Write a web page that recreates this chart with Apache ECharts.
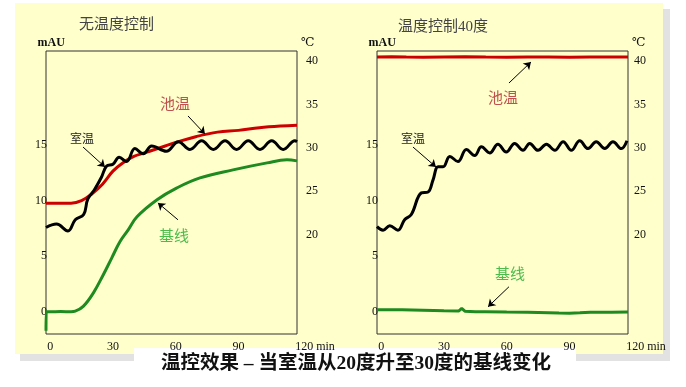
<!DOCTYPE html>
<html>
<head>
<meta charset="utf-8">
<script src="https://cdn.jsdelivr.net/npm/echarts@6/dist/echarts.min.js"></script>
<style>
html,body{margin:0;padding:0;background:#fff;}
#c{width:686px;height:387px;}
</style>
</head>
<body>
<div id="c"></div>
<script>
// ---------- data (time in min) ----------
const xTicks = [0, 30, 60, 90, 120];
const xUnit = 'min';
const mauTicks = [0, 5, 10, 15];
const degTicks = [20, 25, 30, 35, 40];

// Left panel: no temperature control
const leftBathT = [-2, 0, 5, 10, 15, 20, 25, 30, 35, 40, 45, 50, 55, 60, 70, 80, 90, 100, 110, 118];
const leftBathV = [23.6, 23.6, 23.6, 23.6, 23.9, 24.7, 25.8, 27.3, 28.3, 29.0, 29.4, 29.8, 30.2, 30.6, 31.3, 31.8, 32.0, 32.3, 32.5, 32.6];

const leftRoomT = [-2, 3, 8.5, 12, 16, 18, 21, 24.5, 27, 30, 33, 36.5, 40.5, 44.5, 48.5, 55.5, 61.3, 66.8, 72.4, 78, 83.6, 89.1, 94.7, 100.3, 105.9, 111.4, 117, 118];
const leftRoomV = [20.8, 21.2, 20.4, 21.7, 22.3, 24.1, 25.1, 26.6, 27.9, 28.1, 28.9, 28.4, 29.9, 29.3, 30.2, 29.6, 30.7, 29.8, 30.8, 29.8, 30.8, 29.8, 30.8, 29.8, 30.8, 29.8, 30.8, 30.7];

const leftBaseT = [-2, -1.9, 0, 5, 10, 12, 15.8, 20.6, 25.4, 29.4, 33.4, 37.3, 41.5, 51.1, 60.6, 71.6, 87.4, 103.7, 113.2, 118];
const leftBaseV = [-1.7, 0.0, 0.0, 0.02, 0.0, 0.05, 0.48, 1.68, 3.33, 4.83, 6.32, 7.37, 8.54, 10.07, 11.14, 12.04, 12.76, 13.39, 13.66, 13.57];

// Right panel: bath controlled at 40 degrees
const rightBathT = [-2, 5, 12, 20, 30, 40, 50, 60, 70, 80, 90, 100, 110, 118];
const rightBathV = [40.45, 40.5, 40.45, 40.42, 40.46, 40.5, 40.45, 40.44, 40.47, 40.45, 40.43, 40.46, 40.45, 40.45];

const rightRoomT = [-2, 0.9, 4.1, 8.0, 11.2, 14.4, 19.2, 22.4, 24.8, 27.2, 29.6, 32.8, 36.7, 40.7, 44.7, 47.9, 51.9, 55.8, 59.8, 63.8, 67.8, 71.0, 75.0, 79.0, 83.0, 87.0, 90.9, 94.9, 98.9, 102.8, 106.9, 110.8, 114.8, 117.5];
const rightRoomV = [20.9, 20.5, 21.0, 20.5, 21.7, 22.3, 24.8, 24.9, 26.3, 27.8, 27.8, 29.0, 28.4, 29.8, 29.1, 30.1, 29.4, 30.4, 29.5, 30.5, 29.7, 30.5, 29.7, 30.4, 29.7, 30.7, 29.7, 30.8, 29.9, 30.7, 29.9, 30.7, 29.9, 30.8];

const rightBaseT = [-2, 0, 10, 20, 30, 37, 38.5, 40, 45, 50, 60, 70, 80, 85, 90, 95, 100, 110, 118];
const rightBaseV = [0.18, 0.18, 0.17, 0.13, 0.08, 0.06, 0.3, 0.05, 0.0, 0.0, -0.03, -0.05, -0.08, -0.12, -0.13, -0.1, -0.05, -0.04, -0.03];

// ---------- helpers ----------
const zip = (a, b) => a.map((v, i) => [v, b[i]]);
const SERIF = '"Liberation Serif","Times New Roman",serif';
const CJK = '"Noto Sans CJK SC","Noto Sans",sans-serif';
const MIX = '"Liberation Serif","Noto Sans CJK SC",serif';
const YELLOW = '#ffffcc';
const RED = '#cc0000';
const GREEN = '#1f8a1f';

function arrow(p1, p2) {
  return {
    silent: true, animation: false,
    symbol: ['none', 'arrow'], symbolSize: 7,
    lineStyle: {color: '#000', width: 1, type: 'solid'},
    label: {show: false}, emphasis: {disabled: true},
    data: [[{coord: p1}, {coord: p2}]]
  };
}
function tag(p, text, color, size) {
  return {
    silent: true, animation: false,
    symbol: 'circle', symbolSize: 0,
    label: {show: true, position: 'inside', formatter: text, color: color, fontSize: size, fontFamily: CJK},
    data: [{coord: p, value: 0}]
  };
}

function xAxis(gi) {
  return {
    gridIndex: gi, type: 'value', min: -2, max: 118,
    axisLine: {show: false}, axisTick: {show: false}, splitLine: {show: false},
    axisLabel: {customValues: xTicks.slice(0, 4), margin: 7, fontFamily: SERIF, fontSize: 12, color: '#111'}
  };
}
function yLeft(gi) {
  return {
    gridIndex: gi, type: 'value', position: 'left', min: -2, max: 23.45,
    axisLine: {show: false}, axisTick: {show: false}, splitLine: {show: false},
    axisLabel: {customValues: mauTicks, margin: -1, fontFamily: SERIF, fontSize: 12, color: '#111'},
    name: 'mAU', nameLocation: 'end', nameGap: 2,
    nameTextStyle: {fontFamily: SERIF, fontWeight: 'bold', fontSize: 12, color: '#111', align: 'center', padding: [0, 0, 0, 2]}
  };
}
function yRight(gi, m) {
  return {
    gridIndex: gi, type: 'value', position: 'right', min: 8.53, max: 41.15,
    axisLine: {show: false}, axisTick: {show: false}, splitLine: {show: false},
    axisLabel: {customValues: degTicks, margin: m, fontFamily: SERIF, fontSize: 12, color: '#111'},
    name: '℃', nameLocation: 'end', nameGap: 2,
    nameTextStyle: {fontFamily: '"DejaVu Serif",serif', fontSize: 12, color: '#111', align: 'left', padding: [0, 0, 0, 4]}
  };
}
function line(name, xi, yi, data, color, extra) {
  return Object.assign({
    name: name, type: 'line', xAxisIndex: xi, yAxisIndex: yi, data: data,
    showSymbol: false, symbol: 'none', smooth: 0.4, animation: false,
    lineStyle: {color: color, width: 3}, itemStyle: {color: color},
    emphasis: {disabled: true}
  }, extra || {});
}

const baseGraphic = [
  {type: 'rect', z: -100, silent: true, shape: {x: 20, y: 9, width: 650, height: 352}, style: {fill: '#e2e2e2'}},
  {type: 'rect', z: -99, silent: true, shape: {x: 15, y: 3, width: 648, height: 351}, style: {fill: YELLOW}},
  {type: 'rect', z: -98, silent: true, shape: {x: 134, y: 348, width: 442, height: 39}, style: {fill: '#ffffff'}},
  {type: 'text', z: 10, silent: true, x: 79, y: 23, style: {text: '无温度控制', fontFamily: CJK, fontSize: 15, fill: '#444', verticalAlign: 'middle', align: 'left'}},
  {type: 'text', z: 10, silent: true, x: 398, y: 27, style: {text: '温度控制40度', fontFamily: MIX, fontSize: 15, fill: '#444', verticalAlign: 'middle', align: 'left'}},
  {type: 'text', z: 10, silent: true, x: 356, y: 364, style: {text: '温控效果 – 当室温从20度升至30度的基线变化', fontFamily: MIX, fontWeight: 'bold', fontSize: 19.5, fill: '#111', verticalAlign: 'middle', align: 'center'}}
];

const chart = echarts.init(document.getElementById('c'), null, {renderer: 'canvas'});
chart.setOption({
  animation: false,
  backgroundColor: '#ffffff',
  graphic: baseGraphic,
  grid: [
    {left: 46, top: 51, width: 251, height: 283, show: true, borderColor: '#333', borderWidth: 1, backgroundColor: 'transparent'},
    {left: 377, top: 51, width: 251, height: 283, show: true, borderColor: '#333', borderWidth: 1, backgroundColor: 'transparent'}
  ],
  xAxis: [xAxis(0), xAxis(1)],
  yAxis: [yLeft(0), yRight(0, 9), yLeft(1), yRight(1, 6)],
  series: [
    line('池温', 0, 1, zip(leftBathT, leftBathV), RED, {
      markLine: arrow([65.9, 33.66], [74.0, 31.58]),
      markPoint: tag([59.7, 35.16], '池温', '#c0504d', 15)
    }),
    line('基线', 0, 0, zip(leftBaseT, leftBaseV), GREEN, {
      markLine: arrow([61.1, 8.27], [51.5, 9.79]),
      markPoint: tag([59.2, 6.92], '基线', '#4cbb4c', 15)
    }),
    line('室温', 0, 1, zip(leftRoomT, leftRoomV), '#000', {
      markLine: arrow([15.7, 30.08], [26.2, 27.78]),
      markPoint: tag([15.2, 31.12], '室温', '#222', 12)
    }),
    line('池温', 1, 3, zip(rightBathT, rightBathV), RED, {
      smooth: false,
      markLine: arrow([61.1, 37.46], [71.6, 39.88]),
      markPoint: tag([58.2, 35.85], '池温', '#c0504d', 15)
    }),
    line('基线', 1, 2, zip(rightBaseT, rightBaseV), GREEN, {
      smooth: false,
      markLine: arrow([61.1, 2.25], [51.1, 0.45]),
      markPoint: tag([61.6, 3.5], '基线', '#4cbb4c', 15)
    }),
    line('室温', 1, 3, zip(rightRoomT, rightRoomV), '#000', {
      markLine: arrow([15.2, 30.08], [26.2, 27.78]),
      markPoint: tag([15.2, 31.12], '室温', '#222', 12)
    })
  ]
});

// last x tick ("120 min") sits just beyond the plotted range; place it via the axis scale
const lastTickLabels = [0, 1].map(function (i) {
  const px = chart.convertToPixel({xAxisIndex: i}, xTicks[4]);
  const gridRect = chart.getModel().getComponent('grid', i).coordinateSystem.getRect();
  return {
    type: 'text', z: 10, silent: true,
    x: px - 6, y: gridRect.y + gridRect.height + 7,
    style: {text: xTicks[4] + ' ' + xUnit, fontFamily: SERIF, fontSize: 12, fill: '#111', align: 'left', verticalAlign: 'top'}
  };
});
chart.setOption({graphic: baseGraphic.concat(lastTickLabels)});
</script>
</body>
</html>
